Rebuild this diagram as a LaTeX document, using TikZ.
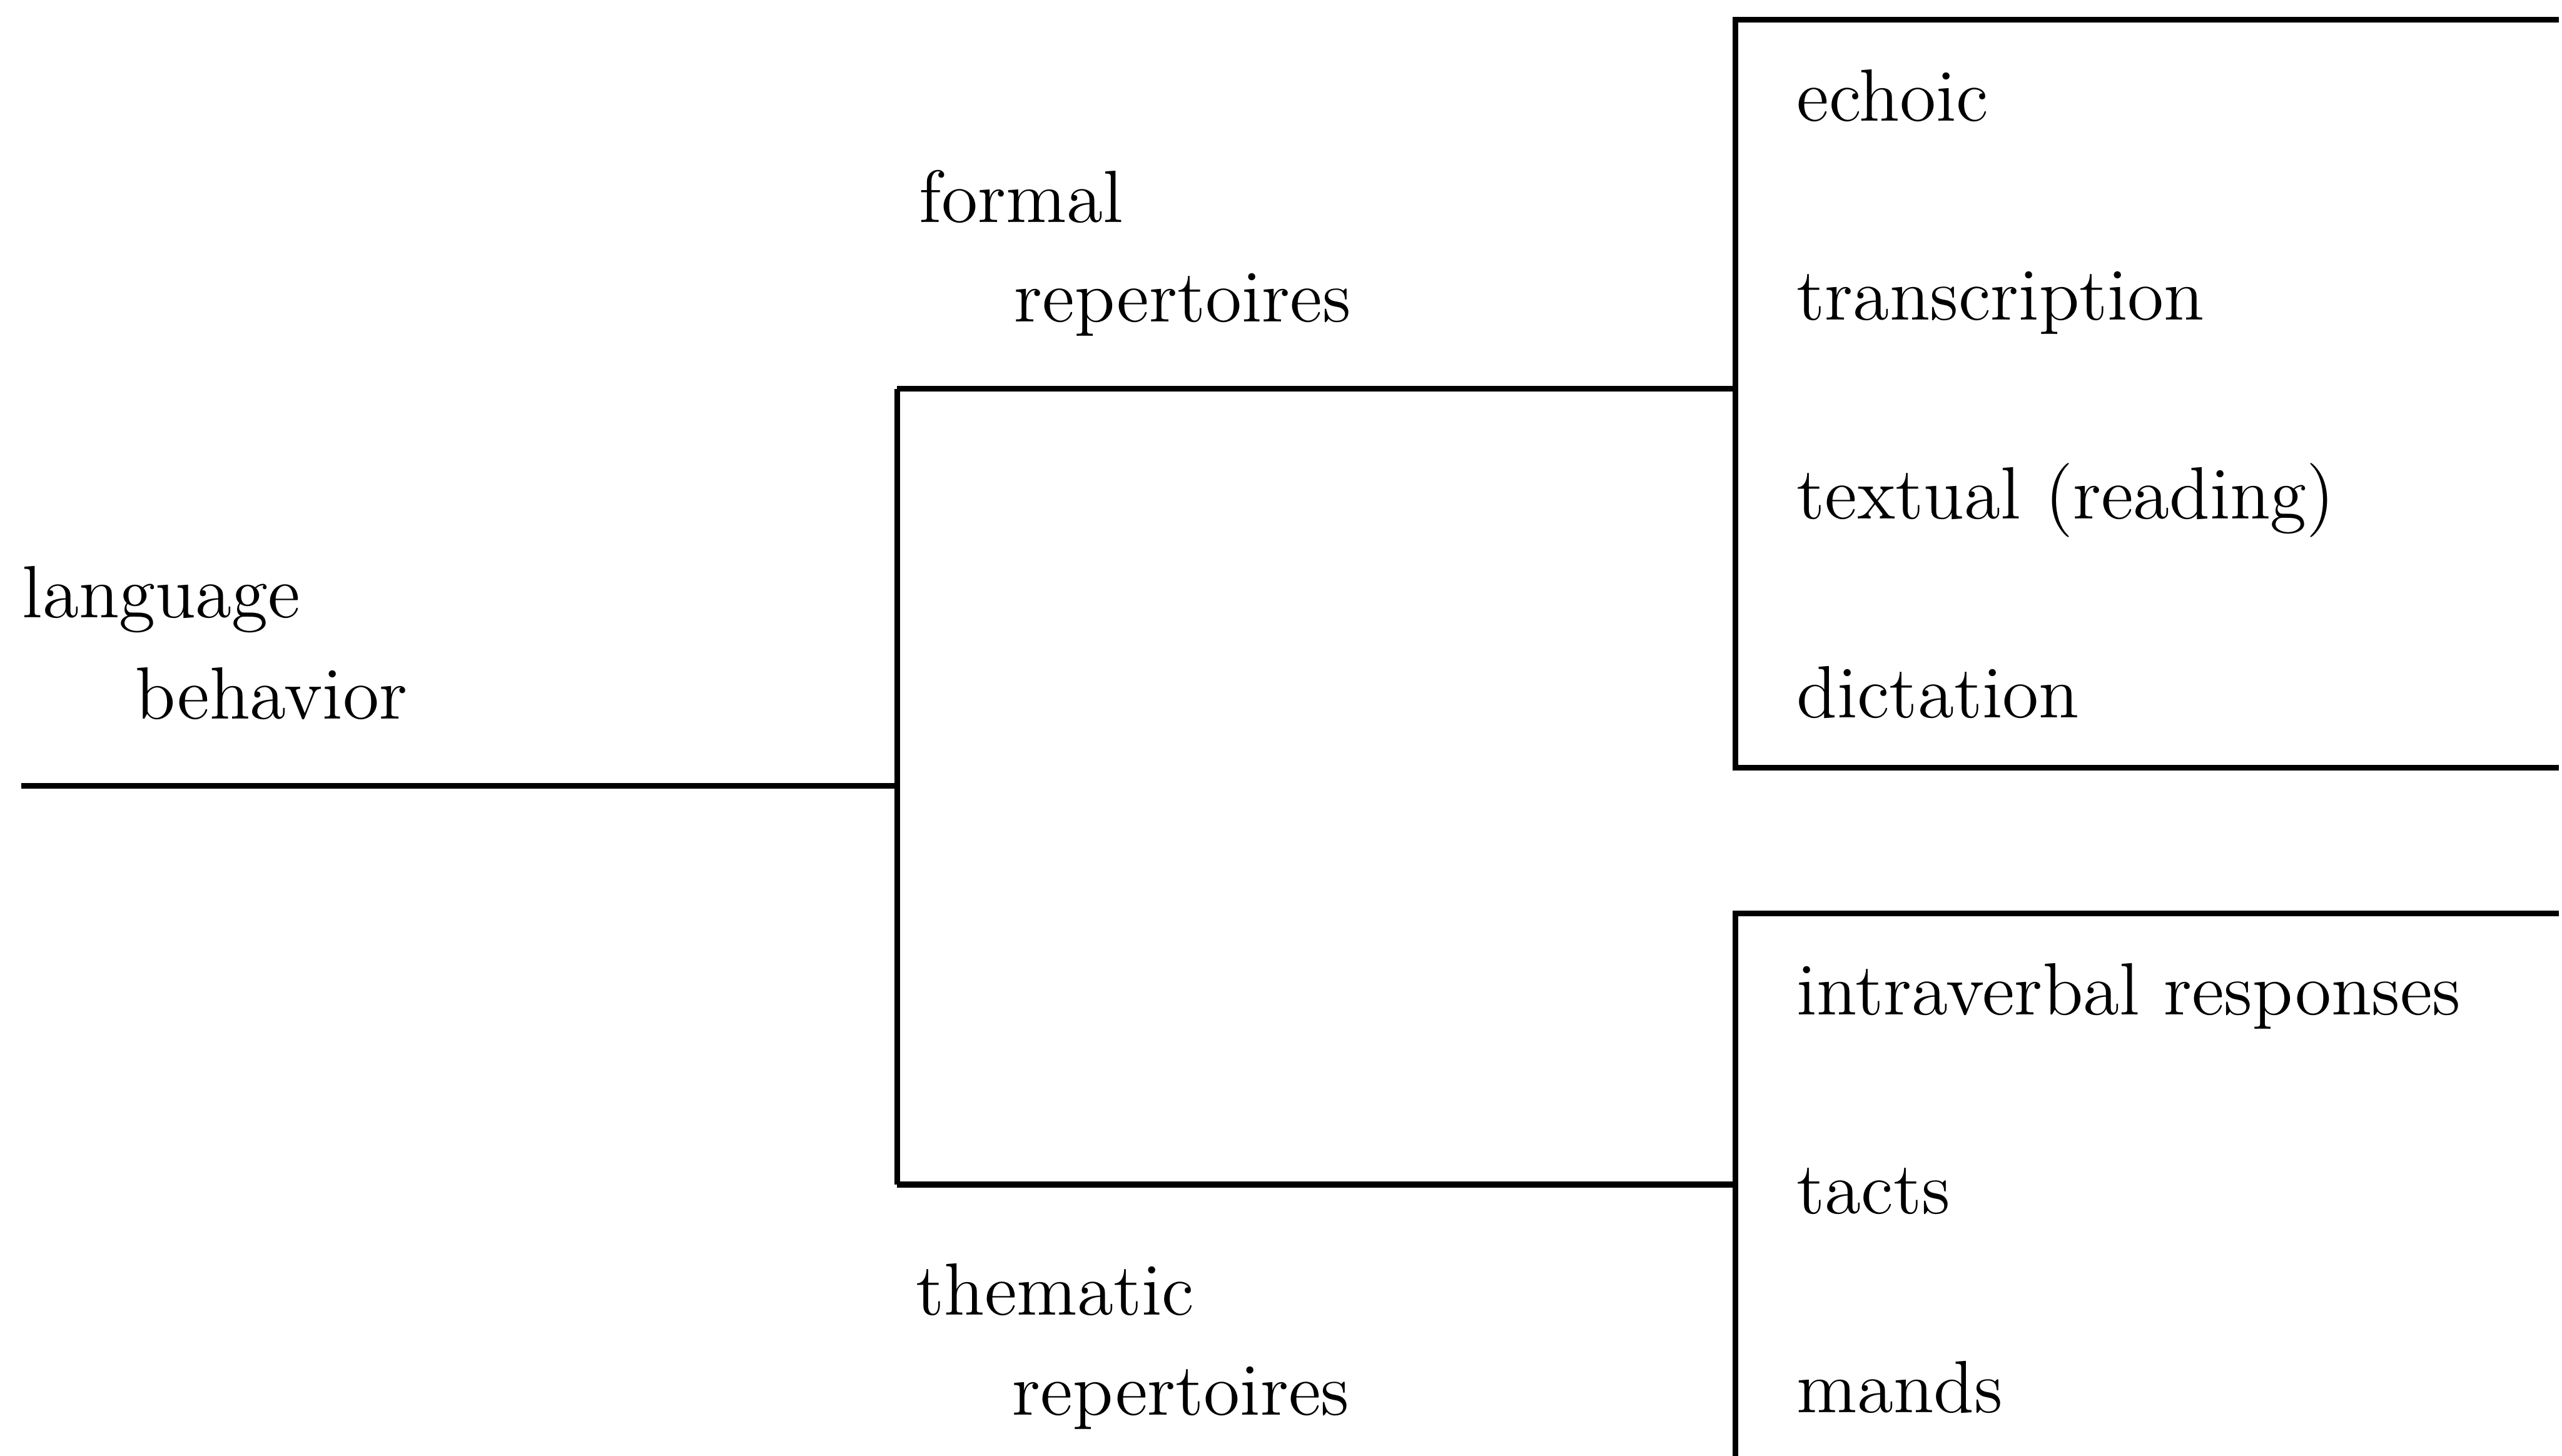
\documentclass[tikz,border=0pt]{standalone}
\usetikzlibrary{positioning}
\begin{document}
\begin{tikzpicture}[
  lbl/.style={anchor=base west, inner sep=0pt, font=\fontsize{12.9}{15}\selectfont},
  tree/.style={line width=1pt},
  node distance=1.217cm
]
\useasboundingbox (0,0) rectangle (15.68,-8.91);
% left branch
\node[lbl] (lang) at (0.13,-3.78) {language};
\node[lbl] (behav) at (0.82,-4.40) {behavior};
\coordinate (root) at (0.13,-4.81);
\coordinate (fork) at (5.49,-4.81);
\coordinate (ftop) at (5.49,-2.38);
\coordinate (fbot) at (5.49,-7.25);
% middle labels
\node[lbl] (formal) at (5.62,-1.36) {formal};
\node[lbl] (frep) at (6.20,-1.97) {repertoires};
\node[lbl] (thematic) at (5.60,-8.05) {thematic};
\node[lbl] (trep) at (6.19,-8.66) {repertoires};
% right brackets
\coordinate (ujoin) at (10.62,-2.38);
\coordinate (utop) at (10.62,-0.12);
\coordinate (utopr) at (15.66,-0.12);
\coordinate (ubot) at (10.62,-4.70);
\coordinate (ubotr) at (15.66,-4.70);
\coordinate (ljoin) at (10.62,-7.25);
\coordinate (ltop) at (10.62,-5.59);
\coordinate (ltopr) at (15.66,-5.59);
\coordinate (lbot) at (10.62,-8.91);
% formal items
\node[lbl] (echoic) at (10.99,-0.74) {echoic};
\node[lbl, below=of echoic.base west, anchor=base west] (transc) {transcription};
\node[lbl, below=of transc.base west, anchor=base west] (textual) {textual (reading)};
\node[lbl, below=of textual.base west, anchor=base west] (dict) {dictation};
% thematic items
\node[lbl] (intra) at (10.99,-6.21) {intraverbal responses};
\node[lbl, below=of intra.base west, anchor=base west] (tacts) {tacts};
\node[lbl, below=of tacts.base west, anchor=base west] (mands) {mands};
% lines
\draw[tree] (root) -- (fork);
\draw[tree] (ftop) -- (fbot);
\draw[tree] (ftop) -- (ujoin);
\draw[tree] (fbot) -- (ljoin);
\draw[tree] (utopr) -- (utop) -- (ubot) -- (ubotr);
\draw[tree] (ltopr) -- (ltop) -- (lbot);
\end{tikzpicture}
\end{document}
